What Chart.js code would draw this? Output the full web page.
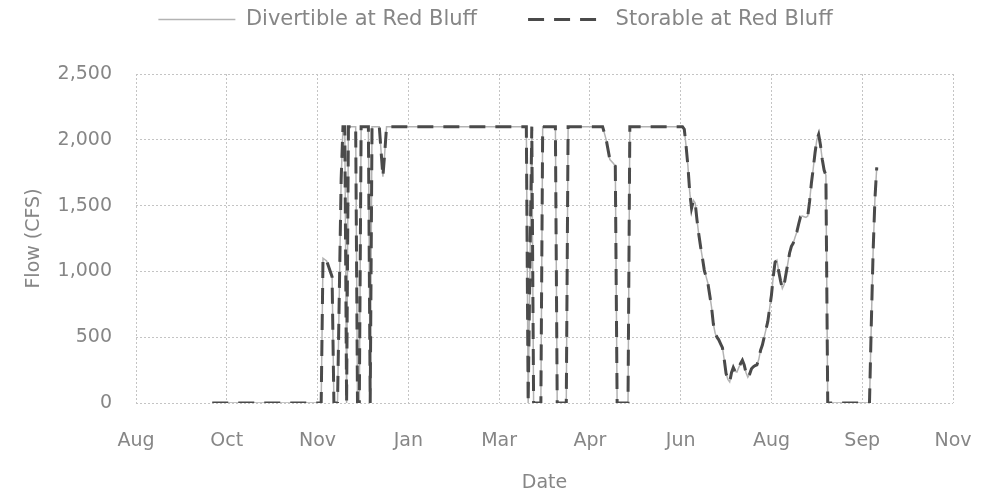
<!DOCTYPE html>
<html lang="en">
<head>
<meta charset="UTF-8">
<title>Divertible and Storable Flow at Red Bluff</title>
<style>
    body { margin: 0; background: #ffffff; }
    #wrap { width: 991px; height: 495px; }
</style>
</head>
<body>
<div id="wrap"><canvas id="flowChart"></canvas></div>

<script src="https://cdn.jsdelivr.net/npm/chart.js"></script>
<script>
    // x values are days counted from the first tick (Aug 20); one tick every 50 days
    const tickLabels = ['Aug', 'Oct', 'Nov', 'Jan', 'Mar', 'Apr', 'Jun', 'Aug', 'Sep', 'Nov'];
    const daysPerTick = 50;
    const yTicks = [0, 500, 1000, 1500, 2000, 2500];

    const days = [
        42, 102, 103, 105, 108, 109, 111, 113, 114, 115, 116, 117, 121, 122, 123, 124, 128, 129, 130, 134, 136, 137, 138,
        215, 216, 218, 219, 223, 224, 231, 232, 237, 238, 257, 259, 261, 263, 264, 265, 271, 272,
        301, 302, 303, 304, 305, 306, 307, 308, 309, 310, 311, 312, 313, 314, 315, 316, 317, 318, 319, 320,
        321, 322, 323, 324, 325, 326, 327, 328, 329, 330, 331, 332, 333, 334, 335, 336, 337, 338, 339, 340,
        341, 342, 343, 344, 345, 346, 347, 348, 349, 350, 351, 352, 353, 354, 355, 356, 357, 358, 359, 360,
        361, 362, 363, 364, 365, 366, 367, 368, 369, 370, 371, 372, 373, 374, 375, 376, 377, 378, 379, 380,
        381, 404, 405, 406, 407, 408
    ];

    // flow in CFS, one value per entry of days
    const divertibleCfs = [
        0, 0, 1100, 1080, 960, 0, 0, 1700, 2100, 2100, 0, 2100, 2100, 0, 0, 2100, 2100, 0, 2100, 2100, 1720, 1900, 2100,
        2100, 0, 2100, 0, 0, 2100, 2100, 0, 0, 2100, 2100, 2000, 1850, 1820, 1800, 0, 0, 2100,
        2100, 2080, 1950, 1800, 1600, 1480, 1540, 1520, 1390, 1280, 1185, 1100, 1010, 960, 910, 820, 730, 600, 530, 500,
        480, 450, 420, 330, 225, 180, 160, 230, 270, 240, 235, 270, 300, 325, 290, 230, 195, 220, 260, 275,
        285, 290, 330, 400, 440, 500, 560, 620, 720, 820, 960, 1070, 1085, 1000, 930, 870, 900, 980, 1060, 1140,
        1190, 1215, 1260, 1300, 1360, 1415, 1420, 1415, 1410, 1420, 1530, 1670, 1780, 1900, 2000, 2040, 1960, 1850, 1770, 1730,
        0, 0, 600, 1150, 1550, 1790
    ];

    const storableCfs = [
        0, 0, 1100, 1080, 960, 0, 0, 1700, 2100, 2100, 0, 2100, 2100, 0, 0, 2100, 2100, 0, 2100, 2100, 1720, 1900, 2100,
        2100, 0, 2100, 0, 0, 2100, 2100, 0, 0, 2100, 2100, 2000, 1850, 1820, 1800, 0, 0, 2100,
        2100, 2080, 1950, 1800, 1600, 1480, 1540, 1520, 1390, 1280, 1185, 1100, 1010, 960, 910, 820, 730, 600, 530, 500,
        480, 450, 420, 330, 225, 180, 160, 230, 270, 240, 235, 270, 300, 325, 290, 230, 195, 220, 260, 275,
        285, 290, 330, 400, 440, 500, 560, 620, 720, 820, 960, 1070, 1085, 1000, 930, 870, 900, 980, 1060, 1140,
        1190, 1215, 1260, 1300, 1360, 1415, 1420, 1415, 1410, 1420, 1530, 1670, 1780, 1900, 2000, 2040, 1960, 1850, 1770, 1730,
        0, 0, 600, 1150, 1550, 1790
    ];

    const textColor = '#868686';
    const gridColor = '#c4c4c4';
    const fontFamily = "'DejaVu Sans', sans-serif";

    // legend keeps a fixed height so the plot starts lower
    const legendSpacer = {
        id: 'legendSpacer',
        afterInit(chart) {
            const fit = chart.legend.fit;
            chart.legend.fit = function () {
                fit.call(this);
                this.height = 74;
            };
        }
    };

    function toPoints(values) {
        return days.map((d, i) => ({ x: d, y: values[i] }));
    }

    new Chart(document.getElementById('flowChart'), {
        type: 'line',
        data: {
            datasets: [
                {
                    label: 'Divertible at Red Bluff',
                    data: toPoints(divertibleCfs),
                    borderColor: '#b3b3b3',
                    borderWidth: 1.5,
                    pointRadius: 0,
                    tension: 0,
                    order: 2
                },
                {
                    label: 'Storable at Red Bluff',
                    data: toPoints(storableCfs),
                    borderColor: '#4a4a4a',
                    borderWidth: 3,
                    borderDash: [16, 10],
                    pointRadius: 0,
                    tension: 0,
                    order: 1
                }
            ]
        },
        options: {
            responsive: true,
            maintainAspectRatio: false,
            animation: false,
            layout: { padding: 0 },
            plugins: {
                tooltip: { enabled: false },
                legend: {
                    position: 'top',
                    labels: {
                        color: textColor,
                        font: { family: fontFamily, size: 21 },
                        usePointStyle: true,
                        pointStyle: 'line',
                        pointStyleWidth: 77,
                        padding: 9,
                        sort: (a, b) => a.datasetIndex - b.datasetIndex,
                        generateLabels(chart) {
                            const items = Chart.defaults.plugins.legend.labels.generateLabels(chart);
                            items.forEach(it => {
                                const ds = chart.data.datasets[it.datasetIndex];
                                it.lineDash = ds.borderDash || [];
                                it.lineWidth = ds.borderWidth;
                                it.strokeStyle = ds.borderColor;
                            });
                            // wider gap between the two entries
                            const first = items.find(it => it.datasetIndex === 0);
                            if (first) first.text += '\u2003\u2003';
                            return items;
                        }
                    }
                }
            },
            scales: {
                x: {
                    type: 'linear',
                    min: 0,
                    max: daysPerTick * (tickLabels.length - 1),
                    afterBuildTicks: s => {
                        s.ticks = tickLabels.map((_, i) => ({ value: i * daysPerTick }));
                    },
                    afterFit: s => {
                        s.height = 92;
                        s.paddingLeft = 0;
                        s.paddingRight = 38;
                    },
                    ticks: {
                        autoSkip: false,
                        maxRotation: 0,
                        padding: 27,
                        color: textColor,
                        font: { family: fontFamily, size: 19 },
                        callback: v => tickLabels[Math.round(v / daysPerTick)]
                    },
                    grid: { color: gridColor, lineWidth: 1, drawTicks: false },
                    border: { display: false, dash: [2, 2] },
                    title: {
                        display: true,
                        text: 'Date',
                        color: textColor,
                        font: { family: fontFamily, size: 19 },
                        padding: { top: 4, bottom: 1 }
                    }
                },
                y: {
                    min: 0,
                    max: 2500,
                    afterBuildTicks: s => {
                        s.ticks = yTicks.map(v => ({ value: v }));
                    },
                    afterFit: s => { s.width = 136; },
                    ticks: {
                        padding: 24,
                        color: textColor,
                        font: { family: fontFamily, size: 19 },
                        callback: v => v.toLocaleString('en-US')
                    },
                    grid: { color: gridColor, lineWidth: 1, drawTicks: false },
                    border: { display: false, dash: [2, 2] },
                    title: {
                        display: true,
                        text: 'Flow (CFS)',
                        color: textColor,
                        font: { family: fontFamily, size: 19 },
                        padding: { top: 23, bottom: 0 }
                    }
                }
            }
        },
        plugins: [legendSpacer]
    });
</script>
</body>
</html>
